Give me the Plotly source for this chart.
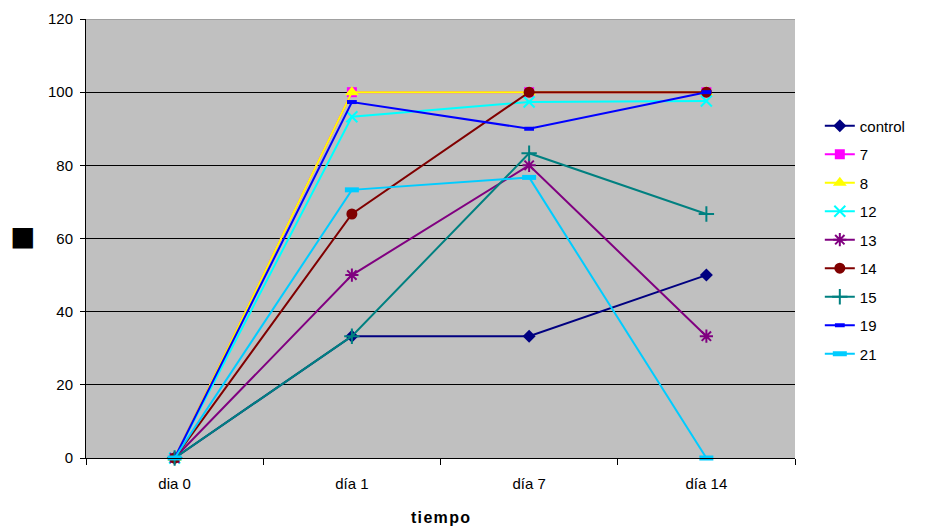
import plotly.graph_objects as go

# Time points (x categories)
dias = ["dia 0", "día 1", "día 7", "día 14"]

# Series values (%)
control = [0, 33.3, 33.3, 50]
s7 = [0, 100, 100, 100]
s8 = [0, 100, 100, 100]
s12 = [0, 93.3, 97.3, 97.6]
s13 = [0, 50, 80, 33.3]
s14 = [0, 66.7, 100, 100]
s15 = [0, 33.3, 83.3, 66.7]
s19 = [0, 97.3, 90, 100]
s21 = [0, 73.3, 76.7, 0]

series = [
    ("control", control, "#000080", "diamond", 10, 0),
    ("7", s7, "#FF00FF", "square", 10, 0),
    ("8", s8, "#FFFF00", "triangle-up", 12, 0),
    ("12", s12, "#00FFFF", "x-thin-open", 11, 2),
    ("13", s13, "#800080", "asterisk-open", 11, 2),
    ("14", s14, "#800000", "circle", 11, 0),
    ("15", s15, "#008080", "cross-thin-open", 11, 2),
    ("19", s19, "#0000FF", "line-ew-open", 7, 4),
    ("21", s21, "#00CCFF", "line-ew-open", 10, 5),
]

fig = go.Figure()
for name, vals, color, sym, size, lw in series:
    marker = dict(symbol=sym, size=size, color=color)
    if lw:
        marker["line"] = dict(color=color, width=lw)
    else:
        marker["line"] = dict(width=0)
    fig.add_trace(go.Scatter(
        x=dias, y=vals, name=name, mode="lines+markers",
        line=dict(color=color, width=2), marker=marker,
        legendgroup=name, cliponaxis=False,
    ))

fig.update_layout(
    width=946, height=528,
    margin=dict(l=86, r=151, t=19, b=70, autoexpand=False),
    paper_bgcolor="white", plot_bgcolor="#C0C0C0",
    font=dict(family="Liberation Sans, Arial", size=15, color="black"),
    showlegend=True,
    legend=dict(x=1.035, y=0.794, xanchor="left", yanchor="top",
                font=dict(size=15), tracegroupgap=6,
                bgcolor="rgba(0,0,0,0)"),
    annotations=[dict(text="■", xref="paper", yref="paper",
                      x=-0.09, y=0.505, xanchor="center", yanchor="middle",
                      showarrow=False, font=dict(size=42, color="black"))],
)
fig.update_xaxes(
    type="category", tickson="boundaries", ticks="outside", ticklen=6,
    tickcolor="black", showline=True, linecolor="black", linewidth=1,
    showgrid=False, range=[-0.5, 3.5], ticklabelstandoff=12, automargin=False,
    title=dict(text="<b>t\u200ai\u200ae\u200am\u200ap\u200ao</b>",
               font=dict(size=16), standoff=20),
)
fig.update_yaxes(
    range=[0, 120], tickvals=[0, 20, 40, 60, 80, 100, 120],
    ticks="outside", ticklen=5, tickcolor="black", ticklabelstandoff=4,
    showline=True, linecolor="black", linewidth=1, automargin=False,
    showgrid=True, gridcolor="black", gridwidth=1, zeroline=False,
)
fig.add_shape(type="line", xref="paper", yref="y", x0=0, x1=1, y0=120, y1=120,
              line=dict(color="#808080", width=1))

fig.write_html("out.html")
